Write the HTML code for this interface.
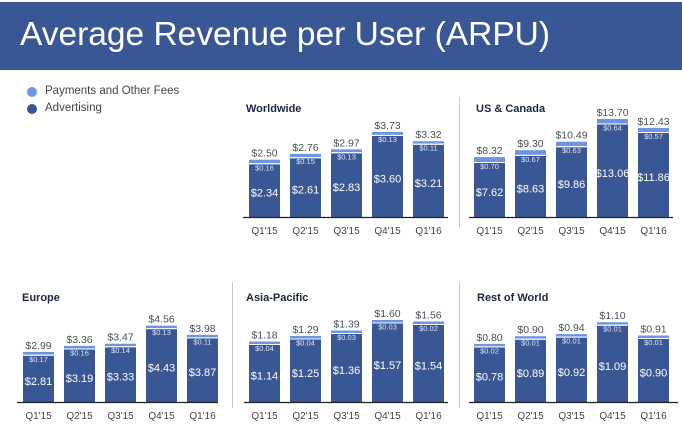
<!DOCTYPE html>
<html><head><meta charset="utf-8"><style>
body{margin:0;width:682px;height:427px;background:#fff;overflow:hidden;font-family:"Liberation Sans",sans-serif;position:relative}
#hdr{position:absolute;left:0;top:2px;width:682px;height:68px;background:#3a5795}
#title{position:absolute;left:20px;top:14px;font-size:33.5px;color:#fff;white-space:nowrap}
.leg{position:absolute;left:45px;font-size:11.5px;color:#444}
.dot{position:absolute;left:27px;width:10px;height:10px;border-radius:5px}
svg{position:absolute;left:0;top:0}
</style></head><body>
<div id="hdr"><div id="title">Average Revenue per User (ARPU)</div></div>
<div class="dot" style="background:#6d95e6;top:87px"></div>
<div class="leg" style="top:85px">Payments and Other Fees</div>
<div class="dot" style="background:#3a5795;top:104px"></div>
<div class="leg" style="top:102px">Advertising</div>
<svg id="c" width="682" height="427"></svg>
<script>
const categories=["Q1'15","Q2'15","Q3'15","Q4'15","Q1'16"];
const wwAds=[2.34,2.61,2.83,3.60,3.21];
const wwPay=[0.16,0.15,0.13,0.13,0.11];
const wwTot=["$2.50","$2.76","$2.97","$3.73","$3.32"];
const usAds=[7.62,8.63,9.86,13.06,11.86];
const usPay=[0.70,0.67,0.63,0.64,0.57];
const usTot=["$8.32","$9.30","$10.49","$13.70","$12.43"];
const euAds=[2.81,3.19,3.33,4.43,3.87];
const euPay=[0.17,0.16,0.14,0.13,0.11];
const euTot=["$2.99","$3.36","$3.47","$4.56","$3.98"];
const apAds=[1.14,1.25,1.36,1.57,1.54];
const apPay=[0.04,0.04,0.03,0.03,0.02];
const apTot=["$1.18","$1.29","$1.39","$1.60","$1.56"];
const rwAds=[0.78,0.89,0.92,1.09,0.90];
const rwPay=[0.02,0.01,0.01,0.01,0.01];
const rwTot=["$0.80","$0.90","$0.94","$1.10","$0.91"];
const svg=document.getElementById('c');
const NS='http://www.w3.org/2000/svg';
function mk(t,a,txt){const e=document.createElementNS(NS,t);for(const k in a)e.setAttribute(k,a[k]);if(txt!==undefined)e.textContent=txt;svg.appendChild(e);return e;}
function panel(key,name,tx,ty,ax0,ax1,ay,bx,max,ads,pay,tot){
  const t=mk('text',{x:tx,y:ty,'font-size':11,'font-weight':'bold',fill:'#1d2540'},name);
  
  
  const sc=80/max;
  const y=v=>ay-v*sc;
  categories.forEach((c,i)=>{
    const x=bx+i*41,w=31;
    const ya=y(ads[i]);
    const ph=Math.max(2.5,pay[i]*sc);
    const b=mk('rect',{x:x,y:ya,width:w,height:ay-ya,fill:'#3a5795'});
    
    
    const p=mk('rect',{x:x,y:ya-ph-1,width:w,height:ph,fill:'#6d95e6'});
    
    
    mk('line',{x1:x,x2:x+w,y1:ya-0.5,y2:ya-0.5,stroke:'#fff','stroke-width':1});
    const pl=mk('text',{x:x+w/2,y:ya+6,'font-size':7.5,fill:'#dfe6f5','text-anchor':'middle'},'$'+pay[i].toFixed(2));
    
    
    const al=mk('text',{x:x+w/2,y:(ya+ay)/2+6,'font-size':11,fill:'#fff','text-anchor':'middle'},'$'+ads[i].toFixed(2));
    
    
    const tl=mk('text',{x:x+w/2,y:ya-ph-4,'font-size':10.5,fill:'#4a4f5c','text-anchor':'middle'},tot[i]);
    
    
    const cl=mk('text',{x:x+w/2,y:ay+17,'font-size':10,fill:'#444','text-anchor':'middle'},c);
    
    
  });
  const a=mk('line',{x1:ax0,x2:ax1,y1:ay+0.5,y2:ay+0.5,stroke:'#222','stroke-width':1.2});
  
  
}
mk('line',{x1:459.5,x2:459.5,y1:97,y2:228,stroke:'#ccc'});
mk('line',{x1:232.5,x2:232.5,y1:282,y2:408,stroke:'#ccc'});
mk('line',{x1:459.5,x2:459.5,y1:282,y2:408,stroke:'#ccc'});
panel('worldwide','Worldwide',246,112,243,448,217,249,3.73*80/84,wwAds,wwPay,wwTot);
panel('us-canada','US & Canada',476,112,469,673,217,474,13.70*80/97,usAds,usPay,usTot);
panel('europe','Europe',22,301,17,218,402,23,4.56*80/75,euAds,euPay,euTot);
panel('asia-pacific','Asia-Pacific',246,301,244,448,402,249,1.60,apAds,apPay,apTot);
panel('rest-of-world','Rest of World',477,301,469,678,402,474,1.10*80/77,rwAds,rwPay,rwTot);
</script>
</body></html>
